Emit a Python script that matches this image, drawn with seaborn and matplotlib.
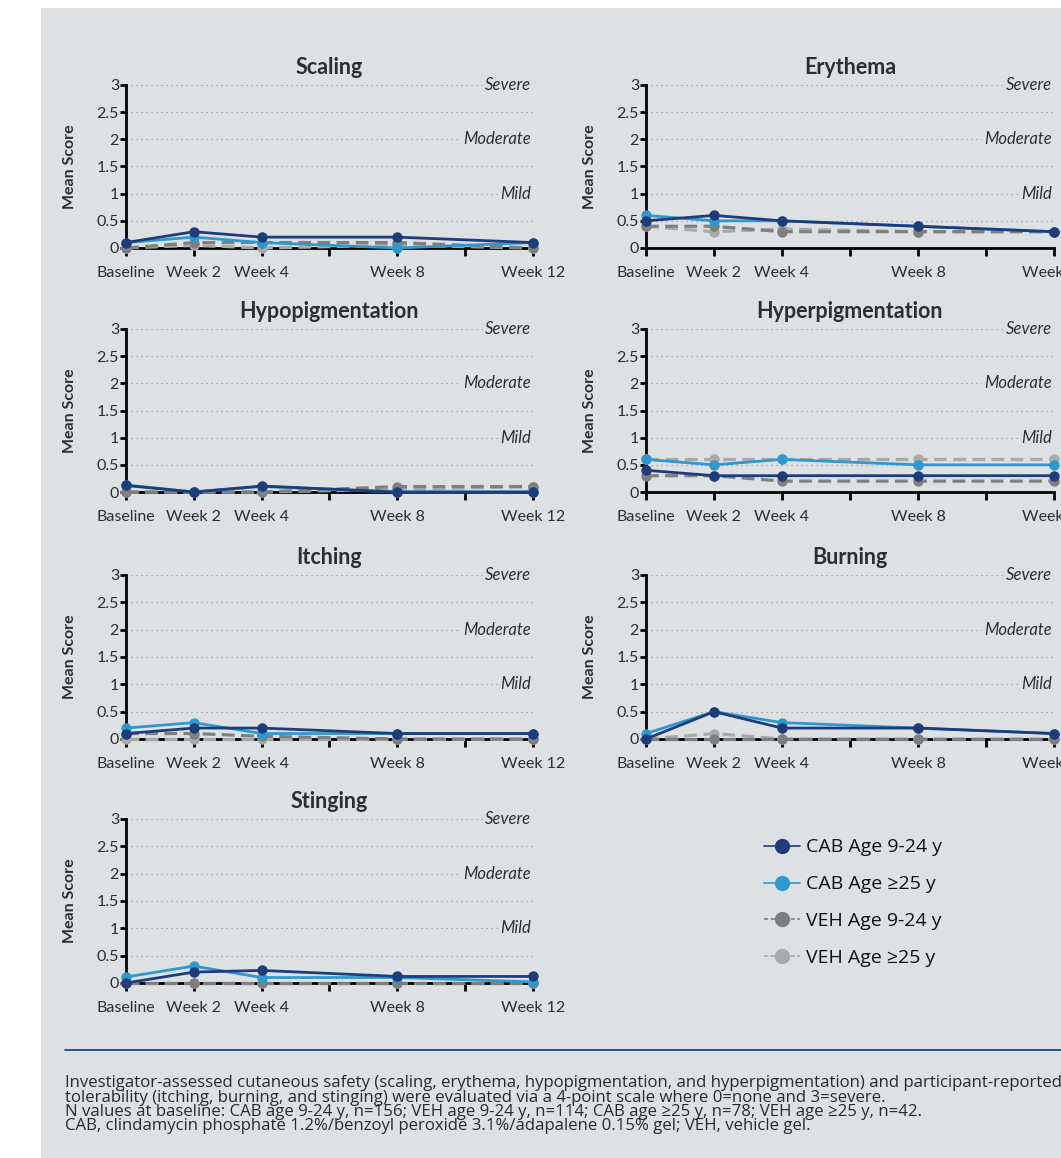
import numpy as np
import pandas as pd
import seaborn as sns
import matplotlib
matplotlib.use('Agg')
import matplotlib.pyplot as plt
from matplotlib.lines import Line2D
from matplotlib.patches import Rectangle

sns.set_style('white')
plt.rcParams['font.family'] = ['Lato', 'DejaVu Sans']

# Dados (escore medio por visita)
weeks = [0, 2, 4, 8, 12]
weekLabels = ['Baseline', 'Week 2', 'Week 4', '', 'Week 8', '', 'Week 12']
groups = ['CAB Age 9-24 y', 'CAB Age \u226525 y', 'VEH Age 9-24 y', 'VEH Age \u226525 y']
panels = ['Scaling', 'Erythema', 'Hypopigmentation', 'Hyperpigmentation',
          'Itching', 'Burning', 'Stinging']

# ordem: CAB 9-24, CAB >=25, VEH 9-24, VEH >=25
scaling = [[0.1, 0.3, 0.2, 0.2, 0.1], [0.1, 0.2, 0.1, 0.0, 0.1],
           [0.0, 0.1, 0.1, 0.1, 0.0], [0.0, 0.05, 0.0, 0.05, 0.0]]
erythema = [[0.5, 0.6, 0.5, 0.4, 0.3], [0.6, 0.5, 0.5, 0.4, 0.3],
            [0.4, 0.4, 0.3, 0.3, 0.3], [0.4, 0.3, 0.35, 0.3, 0.3]]
hypopig = [[0.12, 0.0, 0.11, 0.0, 0.0], [0.13, 0.0, 0.1, 0.0, 0.0],
           [0.0, 0.0, 0.0, 0.1, 0.1], [0.0, 0.0, 0.0, 0.05, 0.1]]
hyperpig = [[0.4, 0.3, 0.3, 0.3, 0.3], [0.6, 0.5, 0.6, 0.5, 0.5],
            [0.3, 0.3, 0.2, 0.2, 0.2], [0.6, 0.6, 0.6, 0.6, 0.6]]
itching = [[0.1, 0.2, 0.2, 0.1, 0.1], [0.2, 0.3, 0.1, 0.1, 0.1],
           [0.1, 0.1, 0.05, 0.0, 0.0], [0.0, 0.0, 0.0, 0.0, 0.0]]
burning = [[0.0, 0.5, 0.2, 0.2, 0.1], [0.1, 0.5, 0.3, 0.2, 0.1],
           [0.0, 0.0, 0.0, 0.0, 0.0], [0.0, 0.1, 0.0, 0.0, 0.0]]
stinging = [[0.0, 0.2, 0.23, 0.12, 0.12], [0.11, 0.31, 0.1, 0.1, 0.02],
            [0.0, 0.0, 0.0, 0.0, 0.0], [0.0, 0.0, 0.0, 0.0, 0.0]]
panelData = [scaling, erythema, hypopig, hyperpig, itching, burning, stinging]

severity = ['Mild', 'Moderate', 'Severe']
severityLevels = [1, 2, 3]

captionLines = [
    'Investigator-assessed cutaneous safety (scaling, erythema, hypopigmentation, and '
    'hyperpigmentation) and participant-reported',
    'tolerability (itching, burning, and stinging) were evaluated via a 4-point scale '
    'where 0=none and 3=severe.',
    'N values at baseline: CAB age 9-24 y, n=156; VEH age 9-24 y, n=114; CAB age '
    '\u226525 y, n=78; VEH age \u226525 y, n=42.',
    'CAB, clindamycin phosphate 1.2%/benzoyl peroxide 3.1%/adapalene 0.15% gel; '
    'VEH, vehicle gel.',
]

colors = ['#1f3c7a', '#2f98cf', '#7f7f7f', '#a9a9a9']
bg = '#dee1e4'
textColor = '#2e2e2e'

W, H = 1061, 1158
fig = plt.figure(figsize=(W / 100, H / 100), dpi=100, facecolor='white')
fig.add_artist(Rectangle((41 / W, 0), 1 - 41 / W, 1 - 8 / H, transform=fig.transFigure,
                         facecolor=bg, edgecolor='none', zorder=-10))

# posicao dos eixos em pixels (topo e base de cada linha)
rows = [(85, 248), (329, 492), (575, 739), (819, 983)]
cols = [(126, 533), (646, 1054)]

for i, name in enumerate(panels):
    r, c = divmod(i, 2)
    top, bottom = rows[r]
    left, right = cols[c]
    ax = fig.add_axes([left / W, 1 - bottom / H, (right - left) / W, (bottom - top) / H])
    ax.set_facecolor('none')

    # linhas de grade pontilhadas
    for yv in [0.5, 1, 1.5, 2, 2.5, 3]:
        ax.axhline(yv, color='#9a9a9a', lw=0.9, ls=(0, (1, 3)), zorder=1)
    for lev, lab in zip(severityLevels, severity):
        ax.text(11.93, lev, lab, ha='right', va='center', style='italic', fontsize=12,
                color=textColor, zorder=2,
                bbox=dict(facecolor=bg, edgecolor='none', pad=1.5))

    # series: VEH primeiro (tracejado), depois CAB
    data = panelData[i]
    for g in [3, 2, 1, 0]:
        veh = g >= 2
        df = pd.DataFrame({'week': weeks, 'score': data[g]})
        sns.lineplot(data=df, x='week', y='score', ax=ax, color=colors[g],
                     lw=2.3 if veh else 2.0, marker='o', markersize=7.5,
                     markeredgewidth=0, legend=False, clip_on=False, zorder=4 + (3 - g))
        if veh:
            ax.lines[-1].set_dashes((4, 2))

    ax.set_xlim(0, 12)
    ax.set_ylim(0, 3)
    ax.set_xticks([0, 2, 4, 6, 8, 10, 12])
    ax.set_xticklabels(weekLabels)
    ax.set_yticks([0, 0.5, 1, 1.5, 2, 2.5, 3])
    ax.set_yticklabels(['0', '0.5', '1', '1.5', '2', '2.5', '3'])
    ax.tick_params(axis='x', length=6, width=2, pad=7, labelsize=11.5, colors='black',
                   labelcolor=textColor, direction='out', bottom=True)
    ax.tick_params(axis='y', length=4, width=2, pad=1, labelsize=11.5, colors='black',
                   labelcolor=textColor, direction='out', left=True)
    ax.set_xlabel('')
    ax.set_ylabel('Mean Score', fontweight='bold', fontsize=11.5, color=textColor, labelpad=14)
    ax.set_title(name, fontweight='bold', fontsize=15.5, color=textColor, pad=8)
    sns.despine(ax=ax)
    for s in ['left', 'bottom']:
        ax.spines[s].set_linewidth(2)
        ax.spines[s].set_color('black')
        ax.spines[s].set_zorder(2.5)

# legenda manual
handles = []
for g in range(4):
    handles.append(Line2D([0], [0], color=colors[g], lw=1.2,
                          ls=(0, (2.5, 1.5)) if g >= 2 else '-',
                          marker='o', markersize=11, markeredgewidth=0))
fig.legend(handles, groups, loc='upper left', bbox_to_anchor=(746 / W, 1 - 821 / H),
           frameon=False, labelspacing=0.97, handlelength=1.9,
           handletextpad=0.3, labelcolor='#111111',
           prop={'family': ['Open Sans', 'DejaVu Sans'], 'size': 14})

# linha azul e nota de rodape (uma linha de texto por vez)
fig.add_artist(Line2D([65 / W, 1], [1 - 1050 / H, 1 - 1050 / H], transform=fig.transFigure,
                      color='#1f4a8a', lw=1.3))
for k, line in enumerate(captionLines):
    fig.text(65 / W, 1 - (1083 + 14.5 * k) / H, line, ha='left', va='center',
             color='#2a2a2a', family=['Open Sans', 'DejaVu Sans'], fontsize=12.1)

plt.savefig('out.png', dpi=100, facecolor='white')
